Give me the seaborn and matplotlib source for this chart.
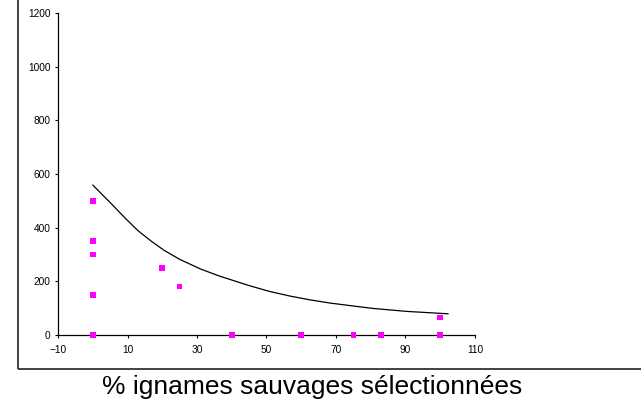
import pandas as pd
import matplotlib
matplotlib.use("Agg")
import matplotlib.pyplot as plt
import seaborn as sns
from matplotlib.patches import Rectangle

# observed points (x = % wild yams selected)
pct_wild = [0, 0, 0, 0, 0, 20, 25, 40, 60, 75, 83, 100, 100]
value = [500, 350, 300, 150, 0, 250, 180, 0, 0, 0, 0, 65, 0]

# trend curve
trend_x = [0, 5.5, 9.3, 13, 17, 20.6, 25, 31, 36.6, 42.4, 45.3, 51, 56.8,
           62.5, 68.3, 75, 80.7, 90.3, 102.3]
trend_y = [559, 487, 436, 389, 348, 315, 282, 246, 219, 195, 183, 162, 145,
           131, 119, 108, 99, 88, 79]

x_ticks = [-10, 10, 30, 50, 70, 90, 110]
y_ticks = [0, 200, 400, 600, 800, 1000, 1200]

pts = pd.DataFrame({"x": pct_wild, "y": value})
trend = pd.DataFrame({"x": trend_x, "y": trend_y})

sns.set_style("white")
plt.rcParams["font.family"] = ["Liberation Sans", "DejaVu Sans"]

fig = plt.figure(figsize=(6.41, 3.99), dpi=100)
ax = fig.add_axes([0.0905, 0.1604, 0.6505, 0.807])

# outer frame (cut off at top and right like the original)
fig.patches.append(Rectangle((0.028, 0.0752), 1.2, 1.2, transform=fig.transFigure,
                             fill=False, edgecolor="#333333", linewidth=1.3,
                             clip_on=False))

sns.lineplot(data=trend, x="x", y="y", color="black", linewidth=0.9, ax=ax,
             estimator=None, sort=False)
sns.scatterplot(data=pts, x="x", y="y", marker="s", s=16, color="#ff00ff",
                edgecolor="none", ax=ax, clip_on=False, zorder=3)

ax.set_xlim(-10, 110)
ax.set_ylim(0, 1200)
ax.set_xticks(x_ticks)
ax.set_yticks(y_ticks)
ax.tick_params(axis="both", which="major", direction="out", length=2.5, width=0.8,
               labelsize=7.3, colors="black", bottom=True, left=True, pad=3)
ax.tick_params(axis="x", pad=5)
sns.despine(ax=ax)
for s in ["left", "bottom"]:
    ax.spines[s].set_color("black")
    ax.spines[s].set_linewidth(0.9)

ax.set_xlabel("")
ax.set_ylabel("")
fig.text(0.487, 0.012, "% ignames sauvages sélectionnées", ha="center",
         va="baseline", fontsize=19, color="black")

fig.savefig("out.png", dpi=100)
